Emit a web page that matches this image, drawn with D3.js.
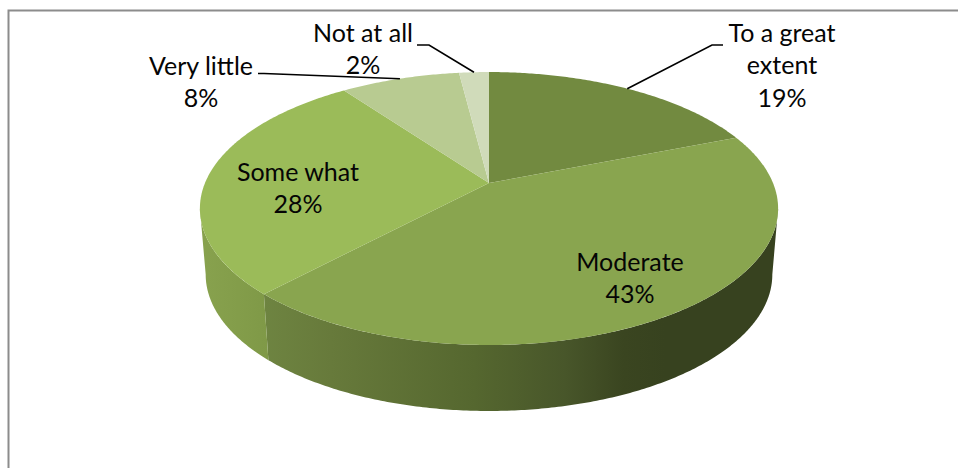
<!DOCTYPE html>
<html><head><meta charset="utf-8">
<script src="https://cdn.jsdelivr.net/npm/d3@7"></script>
<style>html,body{margin:0;padding:0;background:#fff}svg{display:block}
text{font-family:Lato,"Open Sans",sans-serif;fill:#050505;text-anchor:middle}</style>
</head><body><svg id="c" width="958" height="468"></svg>
<script>
const categories = ["To a great extent","Moderate","Some what","Very little","Not at all"];
const values = [19,43,28,8,2];
const percentLabels = ["19%","43%","28%","8%","2%"];
const topColors = ["#728a40","#89a54f","#9bbb59","#b8cb91","#d0dbba"];
const labelLines = [["To a great","extent"],["Moderate"],["Some what"],["Very little"],["Not at all"]];

const W=958,H=468, cx=489, cy=183, k=-0.187, A=131.7, B=284, depth=66, lowerX=0.98;
const fs=25, lh=32.5;
const svg=d3.select("#c");
const defs=svg.append("defs");
svg.append("path").attr("d",`M8.5,${H} V10.5 H${W}`).attr("fill","none").attr("stroke","#8c8c8c").attr("stroke-width",2);

const pie=d3.pie().sort(null).value(d=>d);
const arcs=pie(values);
const proj=(t,lower)=>{
  const u=Math.sin(t), v=-Math.cos(t), d=1+k*v;
  return [cx+(lower?lowerX:1)*B*u/d, cy+(lower?depth:0)+A*v/d];
};
const line=d3.line();
const samples=(a,b,lower)=>{const n=Math.max(2,Math.ceil((b-a)/0.01));return d3.range(n+1).map(i=>proj(a+(b-a)*i/n,lower));};

// side wall: only the part of the rim facing the viewer
const wallStart=Math.PI-Math.acos(-k), wallEnd=Math.PI+Math.acos(-k);
const wallStops=[
  [[0,"#6e8441"],[0.13,"#677a3b"],[0.41,"#55672f"],[0.585,"#48562a"],[0.7,"#3a4520"],[0.78,"#37421f"],[1,"#37421f"]],
  [[0,"#88a24e"],[1,"#7f9947"]]
];
let gi=0;
arcs.forEach((a,i)=>{
  const s=Math.max(a.startAngle,wallStart), e=Math.min(a.endAngle,wallEnd);
  if(e<=s) return;
  const upper=samples(s,e,false), lower=samples(s,e,true).reverse();
  const pts=upper.concat(lower);
  const id="w"+i, stops=wallStops[gi++];
  const xs=d3.extent(pts,p=>p[0]);
  const g=defs.append("linearGradient").attr("id",id).attr("gradientUnits","userSpaceOnUse")
    .attr("x1",xs[0]).attr("x2",xs[1]).attr("y1",0).attr("y2",0);
  stops.forEach(d=>g.append("stop").attr("offset",d[0]).attr("stop-color",d[1]));
  svg.append("path").attr("d",line(pts)+"Z").attr("fill",`url(#${id})`);
});

// top face
arcs.forEach((a,i)=>{
  const pts=[[cx,cy]].concat(samples(a.startAngle,a.endAngle,false));
  svg.append("path").attr("d",line(pts)+"Z").attr("fill",topColors[i]);
});

// labels: centre x and first baseline y per slice
const labelPos=[[782,41.5],[630,270.5],[298,180.5],[201,74.5],[363,41.5]];
categories.forEach((c,i)=>{
  const lines=labelLines[i].concat([percentLabels[i]]);
  const t=svg.append("text").attr("font-size",fs);
  lines.forEach((l,j)=>t.append("tspan").attr("x",labelPos[i][0]).attr("y",labelPos[i][1]+j*lh).text(l));
});

// leader lines: start beside label, elbow, end on the rim at the slice middle
const leaders={0:[[723,45],[712,45]],3:[[258,73.5],[264,73.5]],4:[[417,45],[429,45]]};
Object.keys(leaders).forEach(i=>{
  const a=arcs[i], end=proj((a.startAngle+a.endAngle)/2,false);
  svg.append("path").attr("d",line(leaders[i].concat([end]))).attr("fill","none").attr("stroke","#000").attr("stroke-width",1.6);
});
</script></body></html>
